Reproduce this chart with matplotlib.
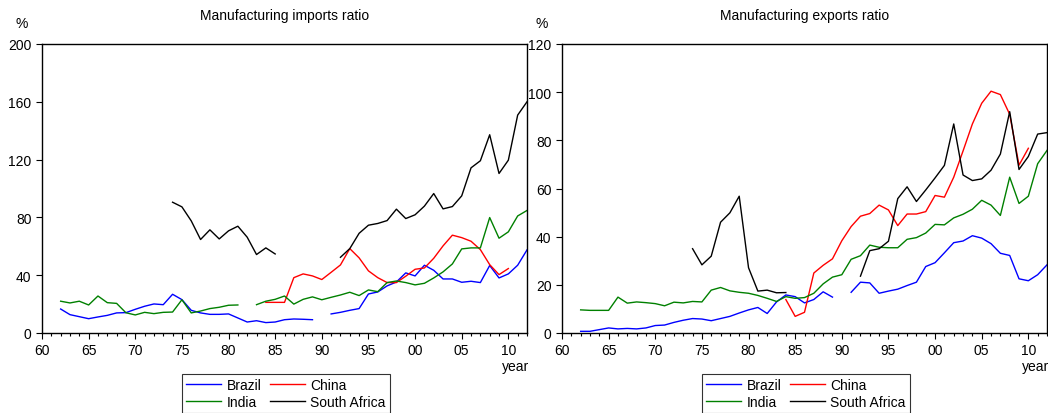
import numpy as np
import matplotlib
matplotlib.use("Agg")
import matplotlib.pyplot as plt
from matplotlib.ticker import MultipleLocator, FuncFormatter

plt.rcParams['font.family'] = ['Liberation Sans', 'DejaVu Sans']
plt.rcParams['font.size'] = 10

nan = np.nan
years = np.arange(1962, 2013)

# manufacturing imports ratio (%), 1962-2012
imp_brazil = [16.6, 12.7, 11.3, 9.9, 11.1, 12.2, 13.9, 14.1, 16.4, 18.5,
              20.1, 19.6, 26.8, 23.1, 15.7, 13.9, 12.9, 12.9, 13.2, 10.4,
              7.6, 8.5, 7.2, 7.6, 9.2, 9.7, 9.5, 9.2, nan, 13.2,
              14.3, 15.7, 16.9, 27.0, 28.4, 32.6, 35.3, 41.6, 39.5, 46.9,
              43.4, 37.4, 37.4, 35.1, 35.8, 34.9, 46.7, 38.1, 40.9, 46.9,
              57.5]
imp_china = [nan] * 22 + [21.2, 21.2, 21.2, 38.3, 40.9, 39.5, 37.0, 42.0,
             47.1, 58.4, 52.0, 43.0, 38.3, 34.9, 34.9, 39.3, 44.1, 45.0,
             51.7, 60.3, 67.7, 66.0, 63.5, 57.7, 47.3, 40.4, 44.6, nan, nan]
imp_india = [22.0, 20.8, 22.0, 19.4, 25.6, 21.0, 20.5, 14.0, 12.5, 14.3,
             13.4, 14.3, 14.5, 23.0, 13.9, 15.2, 16.9, 17.8, 19.2, 19.4,
             nan, 19.6, 22.0, 23.3, 25.6, 20.0, 23.3, 25.0, 23.0, 24.7,
             26.3, 28.2, 25.9, 29.8, 28.6, 34.9, 36.0, 34.9, 33.3, 34.4,
             38.1, 42.3, 47.8, 58.2, 58.9, 58.9, 79.9, 65.6, 70.0, 81.0,
             84.8]
imp_safrica = [nan] * 12 + [90.5, 87.3, 77.6, 64.7, 71.4, 65.1, 70.7, 73.9,
               66.3, 54.3, 58.9, 54.7, nan, nan, nan, nan, nan, nan,
               52.4, 58.4, 69.0, 74.6, 75.8, 77.8, 85.7, 79.2, 81.8, 87.8,
               96.5, 85.9, 87.5, 94.9, 114.3, 119.2, 137.2, 110.4, 119.6,
               150.8, 160.0]

# manufacturing exports ratio (%), 1962-2012
exp_brazil = [0.7, 0.7, 1.4, 2.1, 1.7, 1.9, 1.7, 2.1, 3.1, 3.3,
              4.4, 5.3, 6.0, 5.8, 5.1, 6.0, 6.9, 8.3, 9.6, 10.6,
              8.1, 12.9, 15.8, 15.1, 12.5, 13.9, 17.1, 14.9, nan, 16.9,
              21.1, 20.8, 16.5, 17.4, 18.2, 19.7, 21.1, 27.6, 29.2, 33.3,
              37.5, 38.2, 40.4, 39.4, 37.1, 33.1, 32.2, 22.5, 21.7, 24.2,
              28.3]
exp_china = [nan] * 22 + [13.9, 6.9, 8.6, 24.9, 28.1, 30.8, 38.3, 44.2,
             48.5, 49.6, 53.1, 51.1, 44.6, 49.4, 49.4, 50.4, 57.1, 56.4,
             64.7, 75.6, 86.8, 95.4, 100.4, 99.0, 90.8, 69.7, 76.7, nan, nan]
exp_india = [9.6, 9.4, 9.4, 9.4, 14.9, 12.4, 12.9, 12.6, 12.2, 11.3,
             12.8, 12.5, 13.1, 12.9, 17.8, 18.9, 17.5, 16.9, 16.5, 15.6,
             14.4, 13.1, 15.1, 14.4, 14.7, 16.5, 20.4, 23.2, 24.2, 30.6,
             32.1, 36.5, 35.6, 35.4, 35.4, 38.9, 39.6, 41.5, 45.1, 44.9,
             47.8, 49.3, 51.4, 55.1, 53.1, 48.8, 64.7, 53.8, 56.8, 70.3,
             75.8]
exp_safrica = [nan] * 12 + [35.0, 28.3, 31.9, 46.0, 49.9, 56.8, 27.1, 17.4,
               17.8, 16.7, 16.8, nan, nan, nan, nan, nan, nan, nan,
               23.6, 34.2, 35.0, 38.1, 55.8, 60.7, 54.6, 59.4, 64.4, 69.6,
               86.8, 65.6, 63.3, 64.0, 67.6, 74.3, 91.9, 67.9, 73.3,
               82.6, 83.2]

W, H = 1048, 414
fig = plt.figure(figsize=(W / 100, H / 100), dpi=100)


def make_panel(left, title, data, ymax, ystep):
    ax = fig.add_axes([left / W, 80 / H, 485 / W, 289 / H])
    b, c, i, s = data
    lb, = ax.plot(years, b, color='#0000ff', lw=1)
    lc, = ax.plot(years, c, color='#ff0000', lw=1)
    li, = ax.plot(years, i, color='#008000', lw=1)
    ls, = ax.plot(years, s, color='black', lw=1)
    ax.set_xlim(1960, 2012)
    ax.set_ylim(0, ymax)
    ax.xaxis.set_major_locator(MultipleLocator(5))
    ax.xaxis.set_minor_locator(MultipleLocator(1))
    ax.xaxis.set_major_formatter(FuncFormatter(lambda v, p: '%02d' % (int(round(v)) % 100)))
    ax.yaxis.set_major_locator(MultipleLocator(ystep))
    ax.tick_params(which='major', direction='out', length=4, width=0.8, labelsize=10)
    ax.tick_params(which='minor', direction='out', length=2.5, width=0.8)
    for sp in ax.spines.values():
        sp.set_linewidth(1)
    cx = (left + 242.5) / W
    fig.text(cx, 1 - 16 / H, title, ha='center', va='center', fontsize=10)
    fig.text((left - 20) / W, 1 - 24 / H, '%', ha='center', va='center', fontsize=10)
    ax.text(1 - 25 / 485, -33 / 289, 'year', transform=ax.transAxes,
            ha='left', va='center', fontsize=10)
    leg = ax.legend([lb, li, lc, ls], ['Brazil', 'India', 'China', 'South Africa'],
                    ncol=2, loc='center',
                    bbox_to_anchor=((left + 244) / W, 1 - 394.5 / H),
                    bbox_transform=fig.transFigure, fancybox=False,
                    handlelength=2.5, columnspacing=0.6, labelspacing=0.25,
                    handletextpad=0.4, borderpad=0.3, fontsize=10)
    leg.get_frame().set_edgecolor('black')
    leg.get_frame().set_linewidth(0.8)
    return ax


make_panel(42, 'Manufacturing imports ratio',
           (imp_brazil, imp_china, imp_india, imp_safrica), 200, 40)
make_panel(562, 'Manufacturing exports ratio',
           (exp_brazil, exp_china, exp_india, exp_safrica), 120, 20)

fig.savefig('out.png', dpi=100)
